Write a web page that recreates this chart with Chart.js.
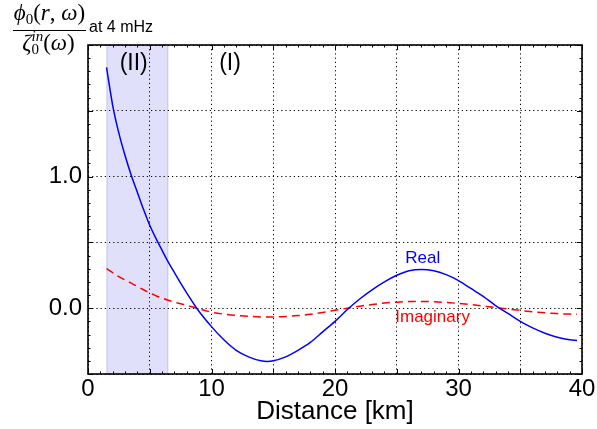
<!DOCTYPE html>
<html>
<head>
<meta charset="utf-8">
<script src="https://cdn.jsdelivr.net/npm/chart.js@4/dist/chart.umd.min.js"></script>
<style>
  html, body { margin: 0; padding: 0; background: #fff; }
  #wrap { width: 597px; height: 429px; position: relative; }
</style>
</head>
<body>
<div id="wrap"><canvas id="c"></canvas></div>
<script>
// ---- Data ----
const distanceKm = [1.5, 2, 2.5, 3, 3.5, 4, 4.5, 5, 5.5, 6, 6.5, 7, 7.5, 8, 8.8, 10, 11, 12, 13, 14, 14.5, 15, 16, 17, 18, 19, 20,
  21, 22, 23, 24, 25, 26, 27, 28, 29, 30, 31, 32, 33, 34, 35, 36, 37, 38, 39, 39.6];
const realPart = [1.83, 1.54, 1.33, 1.16, 1.01, 0.88, 0.75, 0.63, 0.53, 0.44, 0.35, 0.27, 0.19, 0.115, 0.0, -0.14, -0.24, -0.32, -0.37, -0.40, -0.405, -0.40, -0.37, -0.32, -0.26, -0.18, -0.10,
  -0.01, 0.07, 0.14, 0.20, 0.25, 0.285, 0.295, 0.285, 0.255, 0.21, 0.15, 0.09, 0.02, -0.04, -0.10, -0.15, -0.19, -0.22, -0.24, -0.245];
const imagPart = [0.30, 0.27, 0.24, 0.215, 0.19, 0.165, 0.14, 0.115, 0.095, 0.077, 0.06, 0.046, 0.034, 0.022, 0.0, -0.03, -0.045, -0.055, -0.062, -0.066, -0.067, -0.066, -0.063, -0.056, -0.046, -0.032, -0.016,
  0.0, 0.015, 0.028, 0.039, 0.046, 0.05, 0.051, 0.049, 0.044, 0.036, 0.027, 0.016, 0.005, -0.006, -0.017, -0.027, -0.035, -0.041, -0.045, -0.046];
const shadedRegionKm = [1.5, 6.5];
const xTickLabels = ['0', '10', '20', '30', '40'];
const yTickLabels = ['0.0', '1.0'];
const regionLabels = ['(II)', '(I)'];
const regionLabelPos = [[3.7, 1.856], [11.5, 1.856]];
const seriesLabels = ['Real', 'Imaginary'];
const seriesLabelPos = [[27.1, 0.379], [27.9, -0.066]];
const xTitle = 'Distance [km]';
const yTitleSuffix = 'at 4 mHz';

const SANS = '"Liberation Sans", Arial, Helvetica, sans-serif';
const SERIF = '"Liberation Serif", "DejaVu Serif", serif';

const realPts = distanceKm.map((d, i) => ({ x: d, y: realPart[i] }));
const imagPts = distanceKm.map((d, i) => ({ x: d, y: imagPart[i] }));

function drawSegments(ctx, segs, cx, baseline) {
  let w = 0;
  segs.forEach(s => { ctx.font = s.f; s.w = ctx.measureText(s.t).width; w += s.w; });
  let x = cx - w / 2;
  segs.forEach(s => {
    ctx.font = s.f;
    ctx.fillText(s.t, x, baseline + (s.dy || 0));
    x += s.w;
  });
}

const framePlugin = {
  id: 'frame',
  beforeDraw(chart) {
    const { ctx, chartArea: a, scales: { x } } = chart;
    ctx.save();
    ctx.fillStyle = '#fff';
    ctx.fillRect(0, 0, chart.width, chart.height);
    const x0 = x.getPixelForValue(shadedRegionKm[0]);
    const x1 = x.getPixelForValue(shadedRegionKm[1]);
    ctx.fillStyle = 'rgba(180,180,245,0.42)';
    ctx.fillRect(x0, a.top, x1 - x0, a.bottom - a.top);
    ctx.strokeStyle = 'rgba(160,160,240,0.45)';
    ctx.lineWidth = 1;
    ctx.strokeRect(x0 + 0.5, a.top, x1 - x0 - 1, a.bottom - a.top);
    ctx.restore();
  },
  afterDraw(chart) {
    const { ctx, chartArea: a, scales: { x, y } } = chart;
    ctx.save();
    // inward ticks
    ctx.strokeStyle = '#000';
    ctx.lineWidth = 1;
    ctx.beginPath();
    for (let v = 0; v <= 40.001; v += 1) {
      const px = Math.round(x.getPixelForValue(v)) + 0.5;
      const len = (Math.abs(v % 5) < 1e-6) ? 5 : 2.5;
      ctx.moveTo(px, a.bottom); ctx.lineTo(px, a.bottom - len);
      ctx.moveTo(px, a.top); ctx.lineTo(px, a.top + len);
    }
    for (let k = -5; k <= 20; k++) {
      const v = k / 10;
      const py = Math.round(y.getPixelForValue(v)) + 0.5;
      const len = (k % 5 === 0) ? 5 : 2.5;
      ctx.moveTo(a.left, py); ctx.lineTo(a.left + len, py);
      ctx.moveTo(a.right, py); ctx.lineTo(a.right - len, py);
    }
    ctx.stroke();
    // frame
    ctx.lineWidth = 1.6;
    ctx.strokeRect(a.left, a.top, a.right - a.left, a.bottom - a.top);

    // region labels
    ctx.fillStyle = '#000';
    ctx.font = '23px ' + SANS;
    ctx.textAlign = 'center';
    ctx.textBaseline = 'middle';
    regionLabels.forEach((t, i) => {
      ctx.fillText(t, x.getPixelForValue(regionLabelPos[i][0]), y.getPixelForValue(regionLabelPos[i][1]));
    });
    // series labels
    ctx.font = '17px ' + SANS;
    ctx.fillStyle = '#0000ff';
    ctx.fillText(seriesLabels[0], x.getPixelForValue(seriesLabelPos[0][0]), y.getPixelForValue(seriesLabelPos[0][1]));
    ctx.fillStyle = '#ff0000';
    ctx.fillText(seriesLabels[1], x.getPixelForValue(seriesLabelPos[1][0]), y.getPixelForValue(seriesLabelPos[1][1]));

    // y-axis title: fraction
    ctx.fillStyle = '#000';
    ctx.textAlign = 'left';
    ctx.textBaseline = 'alphabetic';
    const it = 'italic 23px ' + SERIF, up = '23px ' + SERIF, sm = '15px ' + SERIF, smi = 'italic 15px ' + SERIF;
    drawSegments(ctx, [
      { t: 'ϕ', f: it }, { t: '0', f: sm, dy: 4 }, { t: '(', f: up }, { t: 'r', f: it },
      { t: ', ', f: up }, { t: 'ω', f: it }, { t: ')', f: up }
    ], 49.5, 20);
    ctx.lineWidth = 1;
    ctx.beginPath();
    ctx.moveTo(13, 30.5); ctx.lineTo(86, 30.5);
    ctx.stroke();
    ctx.font = sm;
    const w0 = ctx.measureText('0').width;
    ctx.font = smi;
    const wIn = ctx.measureText('in').width;
    ctx.font = it;
    const wz = ctx.measureText('ζ').width;
    ctx.font = up;
    const wp = ctx.measureText('(').width;
    ctx.font = it;
    const ww = ctx.measureText('ω').width;
    const total = wz + Math.max(w0, wIn) + 2 * wp + ww;
    let dx = 48.5 - total / 2;
    const base = 50;
    ctx.font = it; ctx.fillText('ζ', dx, base); dx += wz;
    ctx.font = sm; ctx.fillText('0', dx, base + 4);
    ctx.font = smi; ctx.fillText('in', dx, base - 9);
    dx += Math.max(w0, wIn);
    ctx.font = up; ctx.fillText('(', dx, base); dx += wp;
    ctx.font = it; ctx.fillText('ω', dx, base); dx += ww;
    ctx.font = up; ctx.fillText(')', dx, base);

    ctx.font = '16px ' + SANS;
    ctx.fillText(yTitleSuffix, 89, 32);
    ctx.restore();
  }
};

new Chart(document.getElementById('c'), {
  type: 'line',
  data: {
    datasets: [
      { label: seriesLabels[0], data: realPts, borderColor: '#0000ff', borderWidth: 1.5, pointRadius: 0, cubicInterpolationMode: 'monotone', fill: false },
      { label: seriesLabels[1], data: imagPts, borderColor: '#ff0000', borderWidth: 1.5, borderDash: [8, 5], pointRadius: 0, cubicInterpolationMode: 'monotone', fill: false }
    ]
  },
  options: {
    responsive: true,
    maintainAspectRatio: false,
    animation: false,
    devicePixelRatio: 1,
    layout: { padding: { top: 45, right: 15, left: 0, bottom: 0 } },
    plugins: { legend: { display: false }, tooltip: { enabled: false } },
    scales: {
      x: {
        type: 'linear', min: 0, max: 40,
        afterFit(s) { s.height = 55; },
        border: { display: false, dash: [1.2, 3] },
        grid: { color: '#000', lineWidth: 1, drawTicks: false },
        ticks: {
          stepSize: 5, padding: 1, color: '#000',
          font: { family: SANS, size: 24 },
          callback: (v) => { const s = String(v); return xTickLabels.includes(s) ? s : ''; },
          maxRotation: 0, autoSkip: false
        },
        title: { display: true, text: xTitle, color: '#000', font: { family: SANS, size: 26 }, padding: { top: 0, bottom: 2 } }
      },
      y: {
        type: 'linear', min: -0.5, max: 2.0,
        afterFit(s) { s.width = 88; },
        border: { display: false, dash: [1.2, 3] },
        grid: { color: '#000', lineWidth: 1, drawTicks: false },
        ticks: {
          stepSize: 0.5, padding: 6, color: '#000',
          font: { family: SANS, size: 24 },
          callback: (v) => { const s = Number(v).toFixed(1); return yTickLabels.includes(s) ? s : ''; },
          autoSkip: false
        }
      }
    }
  },
  plugins: [framePlugin]
});
</script>
</body>
</html>
